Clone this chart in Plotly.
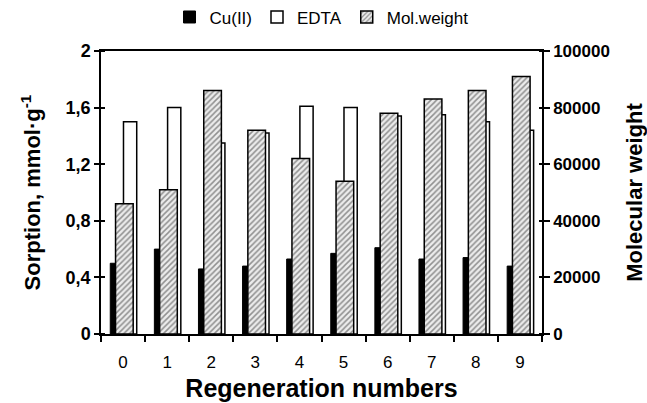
import plotly.graph_objects as go

categories = ["0", "1", "2", "3", "4", "5", "6", "7", "8", "9"]
cu = [0.50, 0.60, 0.46, 0.48, 0.53, 0.57, 0.61, 0.53, 0.54, 0.48]
edta = [1.50, 1.60, 1.35, 1.42, 1.61, 1.60, 1.54, 1.55, 1.50, 1.44]
molw = [46000, 51000, 86000, 72000, 62000, 54000, 78000, 83000, 86000, 91000]

y_ticks = [0, 0.4, 0.8, 1.2, 1.6, 2.0]
y_ticktext = ["0", "0,4", "0,8", "1,2", "1,6", "2"]
y2_ticks = [0, 20000, 40000, 60000, 80000, 100000]
y2_ticktext = ["0", "20000", "40000", "60000", "80000", "100000"]

FONT = "Arial, Liberation Sans, sans-serif"

fig = go.Figure()
fig.add_trace(go.Bar(
    x=categories, y=cu, name="Cu(II)", yaxis="y",
    width=0.3, offset=-0.29,
    marker=dict(color="black", line=dict(color="black", width=1)),
))
fig.add_trace(go.Bar(
    x=categories, y=edta, name="EDTA", yaxis="y",
    width=0.3, offset=0.01,
    marker=dict(color="white", line=dict(color="black", width=1.5)),
))
fig.add_trace(go.Bar(
    x=categories, y=molw, name="Mol.weight", yaxis="y2",
    width=0.4, offset=-0.17,
    marker=dict(color="white", line=dict(color="black", width=1.5),
                pattern=dict(shape="/", fgcolor="#333333", bgcolor="#ececec",
                             size=4, solidity=0.38)),
))

# small inward tick stubs so the axis ticks cross the axis lines as in the original
y_minor = [v + 1e-6 for v in y_ticks]
y2_minor = [v + 1e-3 for v in y2_ticks]

fig.update_layout(
    width=647, height=403,
    margin=dict(l=101, r=105, t=51, b=69, autoexpand=False),
    paper_bgcolor="white", plot_bgcolor="white",
    barmode="overlay",
    font=dict(family=FONT, color="black"),
    showlegend=True,
    legend=dict(orientation="h", x=0.5, xanchor="center", y=1.055, yanchor="bottom",
                font=dict(size=17), bgcolor="rgba(0,0,0,0)", itemwidth=30),
    xaxis=dict(
        type="category", tickson="boundaries", ticks="outside", ticklen=6,
        tickwidth=1.5, tickcolor="black", tickangle=0, ticklabelstandoff=12,
        showline=True, linecolor="black", linewidth=1.5, mirror=True,
        showgrid=False, tickfont=dict(size=17),
        title=dict(text="<b>Regeneration numbers</b>", font=dict(size=25), standoff=8),
        range=[-0.5, 9.5],
    ),
    yaxis=dict(
        range=[0, 2], tickvals=y_ticks, ticktext=y_ticktext,
        ticks="outside", ticklen=5, tickwidth=1.5, tickcolor="black",
        minor=dict(tickvals=y_minor, ticks="inside", ticklen=4, tickwidth=1.5,
                   tickcolor="black", showgrid=False),
        showline=True, linecolor="black", linewidth=1.5,
        showgrid=False, zeroline=False,
        tickfont=dict(size=18, weight="bold"),
        title=dict(text="<b>Sorption, mmol·g<sup>-1</sup></b>", font=dict(size=22), standoff=19),
    ),
    yaxis2=dict(
        range=[0, 100000], tickvals=y2_ticks, ticktext=y2_ticktext,
        overlaying="y", side="right",
        ticks="outside", ticklen=6, tickwidth=1.5, tickcolor="black",
        minor=dict(tickvals=y2_minor, ticks="inside", ticklen=3, tickwidth=1.5,
                   tickcolor="black", showgrid=False),
        showline=True, linecolor="black", linewidth=1.5,
        showgrid=False, zeroline=False,
        tickfont=dict(size=17, weight="bold"),
        title=dict(text="<b>Molecular weight</b>", font=dict(size=22), standoff=29),
    ),
)

fig.write_html("out.html")
